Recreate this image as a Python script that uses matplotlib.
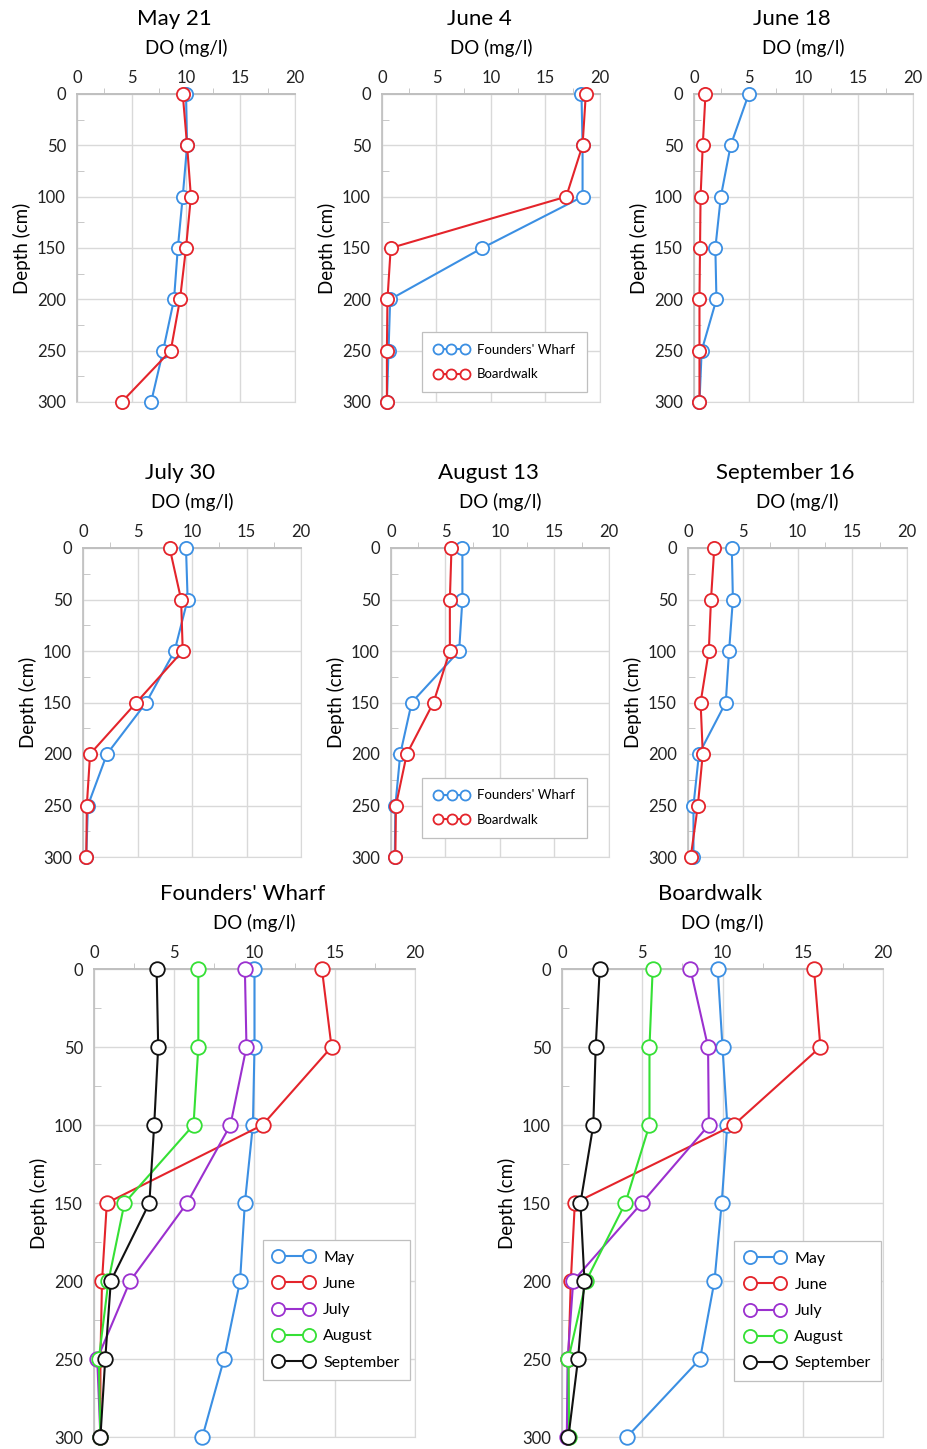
import matplotlib
matplotlib.use("Agg")
import matplotlib.pyplot as plt
from matplotlib.ticker import MultipleLocator

plt.rcParams['font.family'] = ['Lato', 'DejaVu Sans']

depth = [0, 50, 100, 150, 200, 250, 300]

# Individual sampling dates: Founders' Wharf (fw) and Boardwalk (bw)
may21_fw = [10.0, 10.1, 9.7, 9.25, 8.9, 7.9, 6.8]
may21_bw = [9.7, 10.1, 10.45, 10.0, 9.45, 8.6, 4.1]
jun04_fw = [18.3, 18.4, 18.4, 9.2, 0.75, 0.6, 0.45]
jun04_bw = [18.7, 18.4, 16.9, 0.8, 0.5, 0.45, 0.45]
jun18_fw = [5.0, 3.35, 2.45, 1.95, 2.05, 0.7, 0.5]
jun18_bw = [1.05, 0.8, 0.6, 0.55, 0.5, 0.5, 0.5]
jul30_fw = [9.45, 9.6, 8.4, 5.8, 2.2, 0.45, 0.3]
jul30_bw = [7.95, 9.0, 9.15, 4.9, 0.65, 0.35, 0.3]
aug13_fw = [6.55, 6.55, 6.25, 1.9, 0.85, 0.4, 0.35]
aug13_bw = [5.55, 5.4, 5.4, 3.9, 1.45, 0.45, 0.4]
sep16_fw = [4.0, 4.1, 3.75, 3.45, 1.0, 0.5, 0.5]
sep16_bw = [2.4, 2.1, 1.9, 1.15, 1.35, 0.9, 0.25]

# Monthly profiles per site
months = ["May", "June", "July", "August", "September"]
fw_monthly = [
    [10.0, 10.0, 9.9, 9.4, 9.1, 8.1, 6.75],
    [14.2, 14.8, 10.5, 0.8, 0.5, 0.4, 0.4],
    [9.4, 9.5, 8.5, 5.8, 2.25, 0.2, 0.4],
    [6.5, 6.5, 6.2, 1.9, 0.9, 0.3, 0.4],
    [3.9, 4.0, 3.75, 3.45, 1.05, 0.7, 0.4],
]
bw_monthly = [
    [9.7, 10.0, 10.3, 9.95, 9.5, 8.6, 4.05],
    [15.7, 16.1, 10.7, 0.8, 0.55, 0.4, 0.4],
    [8.0, 9.1, 9.15, 4.97, 0.7, 0.35, 0.3],
    [5.65, 5.45, 5.45, 3.95, 1.5, 0.4, 0.45],
    [2.35, 2.1, 1.95, 1.15, 1.4, 1.0, 0.4],
]

BLUE = "#3b8fe3"
RED = "#e4242b"
PURPLE = "#9b30cf"
GREEN = "#35e035"
BLACK = "#111111"
month_colors = [BLUE, RED, PURPLE, GREEN, BLACK]
GRID = "#d9d9d9"
AXIS = "#bfbfbf"

W, H = 928, 1449
fig = plt.figure(figsize=(W / 100, H / 100), dpi=100)


def make_axes(x0, x1, y0, y1):
    return fig.add_axes([x0 / W, 1 - y1 / H, (x1 - x0) / W, (y1 - y0) / H])


def style(ax, title, width_px):
    ax.set_xlim(0, 20)
    ax.set_ylim(300, 0)
    ax.xaxis.tick_top()
    ax.xaxis.set_label_position('top')
    ax.xaxis.set_major_locator(MultipleLocator(5))
    ax.xaxis.set_minor_locator(MultipleLocator(2.5))
    ax.yaxis.set_major_locator(MultipleLocator(50))
    ax.yaxis.set_minor_locator(MultipleLocator(25))
    ax.grid(True, which='major', color=GRID, lw=1.0)
    ax.set_axisbelow(True)
    ax.tick_params(which='major', length=0, labelsize=12, colors='#222222')
    ax.tick_params(axis='x', which='major', pad=6)
    ax.tick_params(axis='y', which='major', pad=8)
    ax.tick_params(axis='x', which='minor', length=4, direction='out', color=AXIS, top=True, bottom=False)
    ax.tick_params(axis='y', which='minor', length=5, direction='in', color=AXIS)
    ax.spines['top'].set_color(AXIS)
    ax.spines['top'].set_linewidth(1.4)
    ax.spines['left'].set_color(AXIS)
    ax.spines['left'].set_linewidth(1.2)
    ax.spines['right'].set_color(GRID)
    ax.spines['bottom'].set_color(GRID)
    ax.set_xlabel("DO (mg/l)", fontsize=13.5, labelpad=11)
    ax.set_ylabel("Depth (cm)", fontsize=13.5, labelpad=4)
    t = ax.set_title(title, fontsize=16, pad=10)
    # chart titles sit a little left of the plot-area centre
    t.set_x(0.5 - 12.0 / width_px)


def profile(ax, values, color, label, ms):
    ax.plot(values, depth, color=color, lw=1.5, marker='o', ms=ms,
            mfc='white', mec=color, mew=1.3, label=label, clip_on=False, zorder=3)


# Paired panels for each sampling date
dates = [
    ("May 21", may21_fw, may21_bw, (77, 295, 94, 402), None),
    ("June 4", jun04_fw, jun04_bw, (382, 600, 94, 402), (0.940, 0.032)),
    ("June 18", jun18_fw, jun18_bw, (694, 913, 94, 402), None),
    ("July 30", jul30_fw, jul30_bw, (83, 301, 548, 857), None),
    ("August 13", aug13_fw, aug13_bw, (391, 609, 548, 857), (0.899, 0.062)),
    ("September 16", sep16_fw, sep16_bw, (688, 907, 548, 857), None),
]

for title, fw, bw, box, leg in dates:
    ax = make_axes(*box)
    profile(ax, fw, BLUE, "Founders' Wharf", 9.5)
    profile(ax, bw, RED, "Boardwalk", 9.5)
    style(ax, title, box[1] - box[0])
    if leg is not None:
        lg = ax.legend(loc='lower right', bbox_to_anchor=leg, numpoints=3,
                       fontsize=9.5, markerscale=0.76, handlelength=2.7,
                       handletextpad=0.6, labelspacing=0.95, fancybox=False,
                       edgecolor=AXIS, framealpha=1, borderpad=0.9,
                       borderaxespad=0)
        lg.get_frame().set_linewidth(0.9)

# Site panels with monthly profiles
sites = [
    ("Founders' Wharf", fw_monthly, (94, 415, 969, 1437), (0.984, 0.122)),
    ("Boardwalk", bw_monthly, (562, 883, 969, 1437), (0.994, 0.120)),
]

for title, data, box, leg in sites:
    ax = make_axes(*box)
    for vals, c, m in zip(data, month_colors, months):
        profile(ax, vals, c, m, 10.5)
    style(ax, title, box[1] - box[0])
    lg = ax.legend(loc='lower right', bbox_to_anchor=leg, numpoints=2,
                   fontsize=11.5, markerscale=0.9, handlelength=2.5,
                   handletextpad=0.6, labelspacing=0.75, fancybox=False,
                   edgecolor=AXIS, framealpha=1, borderpad=0.65,
                   borderaxespad=0)
    lg.get_frame().set_linewidth(0.9)

fig.savefig("out.png", dpi=100, facecolor='white')
